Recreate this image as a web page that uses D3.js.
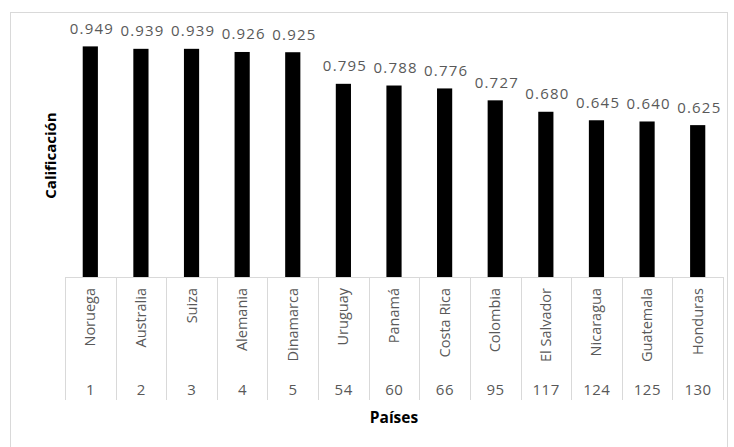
<!DOCTYPE html>
<html>
<head>
<meta charset="utf-8">
<script src="https://cdn.jsdelivr.net/npm/d3@7"></script>
<style>
  body { margin: 0; background: #fff; }
  svg text { font-family: "Open Sans", "Noto Sans", sans-serif; }
</style>
</head>
<body>
<div id="chart"></div>
<script>
// datos del grafico
var paises = ["Noruega", "Australia", "Suiza", "Alemania", "Dinamarca", "Uruguay", "Panamá", "Costa Rica", "Colombia", "El Salvador", "Nicaragua", "Guatemala", "Honduras"];
var posiciones = ["1", "2", "3", "4", "5", "54", "60", "66", "95", "117", "124", "125", "130"];
var calificacion = [0.949, 0.939, 0.939, 0.926, 0.925, 0.795, 0.788, 0.776, 0.727, 0.680, 0.645, 0.640, 0.625];

var width = 734, height = 447;
var plotLeft = 65, plotRight = 723, plotTop = 34, base = 277;
var grey = "#d9d9d9", txt = "#595959";

var svg = d3.select("#chart").append("svg")
    .attr("width", width).attr("height", height);

// marco del grafico
svg.append("rect")
    .attr("x", 10.5).attr("y", 12.5)
    .attr("width", 717).attr("height", 440)
    .attr("fill", "none").attr("stroke", grey);

var x = d3.scaleBand()
    .domain(d3.range(paises.length))
    .range([plotLeft, plotRight])
    .paddingInner(0.7).paddingOuter(0.35);

var xOuter = d3.scaleBand()
    .domain(d3.range(paises.length))
    .range([plotLeft, plotRight]);

var y = d3.scaleLinear().domain([0, 1]).range([base, plotTop]);

// barras
svg.selectAll(".bar")
    .data(calificacion)
    .enter().append("rect")
    .attr("class", "bar")
    .attr("x", function (d, i) { return x(i); })
    .attr("width", x.bandwidth())
    .attr("y", function (d) { return y(d); })
    .attr("height", function (d) { return base - y(d); })
    .attr("fill", "#000");

// etiquetas de valor
svg.selectAll(".lbl")
    .data(calificacion)
    .enter().append("text")
    .attr("class", "lbl")
    .attr("x", function (d, i) { return xOuter(i) + xOuter.bandwidth() / 2 + 1.6; })
    .attr("y", function (d) { return y(d) - 12.5; })
    .attr("text-anchor", "middle")
    .attr("font-size", 15)
    .attr("letter-spacing", 1.2)
    .attr("fill", txt)
    .text(function (d) { return d.toFixed(3); });

// eje de categorias (dos niveles)
svg.append("line")
    .attr("x1", plotLeft).attr("x2", plotRight)
    .attr("y1", base + 0.5).attr("y2", base + 0.5)
    .attr("stroke", grey);

var sep = d3.range(paises.length + 1).map(function (i) {
    return i < paises.length ? xOuter(i) : plotRight;
});
svg.selectAll(".sep")
    .data(sep)
    .enter().append("line")
    .attr("x1", function (d) { return Math.round(d) + 0.5; })
    .attr("x2", function (d) { return Math.round(d) + 0.5; })
    .attr("y1", base).attr("y2", 400)
    .attr("stroke", grey);

svg.selectAll(".pais")
    .data(paises)
    .enter().append("text")
    .attr("class", "pais")
    .attr("transform", function (d, i) {
        return "translate(" + (xOuter(i) + xOuter.bandwidth() / 2 + 5) + "," + 288 + ") rotate(-90)";
    })
    .attr("text-anchor", "end")
    .attr("font-size", 14.5)
    .attr("fill", txt)
    .text(function (d) { return d; });

svg.selectAll(".pos")
    .data(posiciones)
    .enter().append("text")
    .attr("class", "pos")
    .attr("x", function (d, i) { return xOuter(i) + xOuter.bandwidth() / 2 + 0.3; })
    .attr("y", 395)
    .attr("text-anchor", "middle")
    .attr("font-size", 15)
    .attr("letter-spacing", 0.5)
    .attr("fill", txt)
    .text(function (d) { return d; });

// titulos de ejes
svg.append("text")
    .attr("x", (plotLeft + plotRight) / 2).attr("y", 423)
    .attr("text-anchor", "middle")
    .attr("font-size", 15.5).attr("font-weight", "bold")
    .attr("fill", "#000")
    .text("Países");

svg.append("text")
    .attr("transform", "translate(56," + ((plotTop + base) / 2) + ") rotate(-90)")
    .attr("text-anchor", "middle")
    .attr("font-size", 15).attr("font-weight", "bold")
    .attr("fill", "#000")
    .text("Calificación");
</script>
</body>
</html>
